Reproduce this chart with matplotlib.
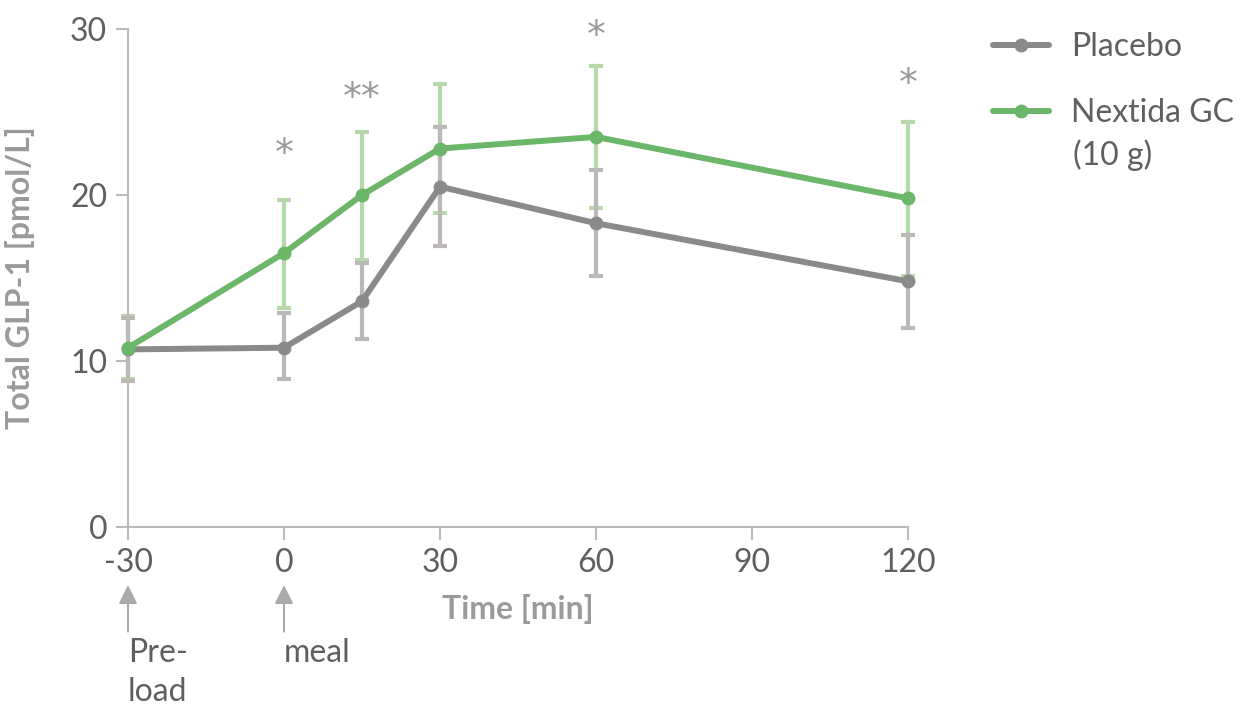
import numpy as np
import matplotlib.pyplot as plt

plt.rcParams['font.family'] = ['Lato', 'DejaVu Sans']

# data
time = [-30, 0, 15, 30, 60, 120]
placebo = [10.7, 10.8, 13.6, 20.5, 18.3, 14.8]
placebo_lo = [8.8, 8.9, 11.3, 16.9, 15.1, 12.0]
placebo_hi = [12.6, 12.9, 15.9, 24.1, 21.5, 17.6]
nextida = [10.8, 16.5, 20.0, 22.8, 23.5, 19.8]
nextida_lo = [8.9, 13.2, 16.1, 18.9, 19.2, 15.1]
nextida_hi = [12.7, 19.7, 23.8, 26.7, 27.8, 24.4]

star_x = [0, 15, 60, 120]
star_y = [22.4, 25.8, 29.5, 26.6]
star_txt = ['*', '**', '*', '*']

xticks = [-30, 0, 30, 60, 90, 120]
yticks = [0, 10, 20, 30]

green = '#6cb66a'
green_err = '#b6d8ab'
grey = '#8a8a8a'
grey_err = '#bcb8b8'
txt = '#5f5f5f'
lab = '#9a9a9a'
fs = 23

W, H = 1251, 710
fig = plt.figure(figsize=(W / 100, H / 100), dpi=100)
ax = fig.add_axes([128 / W, 1 - 527 / H, (908 - 128) / W, (527 - 29) / H])

p_err = [np.array(placebo) - np.array(placebo_lo), np.array(placebo_hi) - np.array(placebo)]
n_err = [np.array(nextida) - np.array(nextida_lo), np.array(nextida_hi) - np.array(nextida)]

ax.errorbar(time, nextida, yerr=n_err, fmt='none', ecolor=green_err, elinewidth=3,
            capsize=5, capthick=3, zorder=2, clip_on=False)
ax.errorbar(time, placebo, yerr=p_err, fmt='none', ecolor=grey_err, elinewidth=3,
            capsize=5, capthick=3, zorder=2, clip_on=False)
l1, = ax.plot(time, placebo, color=grey, lw=4.3, marker='o', ms=9, zorder=3, clip_on=False,
              solid_capstyle='round', label='Placebo')
l2, = ax.plot(time, nextida, color=green, lw=4.3, marker='o', ms=9, zorder=4, clip_on=False,
              solid_capstyle='round', label='Nextida GC')

for x, y, s in zip(star_x, star_y, star_txt):
    ax.text(x, y, s, ha='center', va='center', fontsize=27, color='#999999',
            family='DejaVu Sans')

ax.set_xlim(-30, 120)
ax.set_ylim(0, 30)
ax.set_xticks(xticks)
ax.set_yticks(yticks)
ax.set_xticklabels([str(t) for t in xticks])
for s in ['top', 'right']:
    ax.spines[s].set_visible(False)
for s in ['left', 'bottom']:
    ax.spines[s].set_color('#bbbbbb')
    ax.spines[s].set_linewidth(1.5)
ax.tick_params(axis='both', length=9, width=1.5, color='#bbbbbb', labelsize=fs,
               labelcolor=txt, pad=6)
ax.set_xlabel('Time [min]', fontsize=fs, fontweight='bold', color=lab, labelpad=12)
ax.set_ylabel('Total GLP-1 [pmol/L]', fontsize=fs, fontweight='bold', color=lab, labelpad=25)

# arrows for pre-load and meal
for x in [-30, 0]:
    ax.annotate('', xy=(x, -3.5), xytext=(x, -6.3), xycoords='data',
                arrowprops=dict(arrowstyle='-|>', color='#aaaaaa', lw=1.5,
                                mutation_scale=28, shrinkA=0, shrinkB=0),
                annotation_clip=False)
ax.text(-30, -6.7, 'Pre-\nload', ha='left', va='top', fontsize=fs, color=txt,
        linespacing=1.38)
ax.text(0, -6.7, 'meal', ha='left', va='top', fontsize=fs, color=txt)

# legend
leg = fig.legend([l1, l2], ['Placebo', 'Nextida GC'], loc='upper left',
                 bbox_to_anchor=(993 / W, 1 - 32 / H), frameon=False, fontsize=fs,
                 handlelength=1.75, handletextpad=0.7, labelspacing=1.13,
                 borderpad=0, borderaxespad=0, labelcolor=txt)
fig.text(1073 / W, 1 - 155 / H, '(10 g)', ha='left', va='center', fontsize=fs, color=txt)

fig.savefig('out.png', dpi=100)
